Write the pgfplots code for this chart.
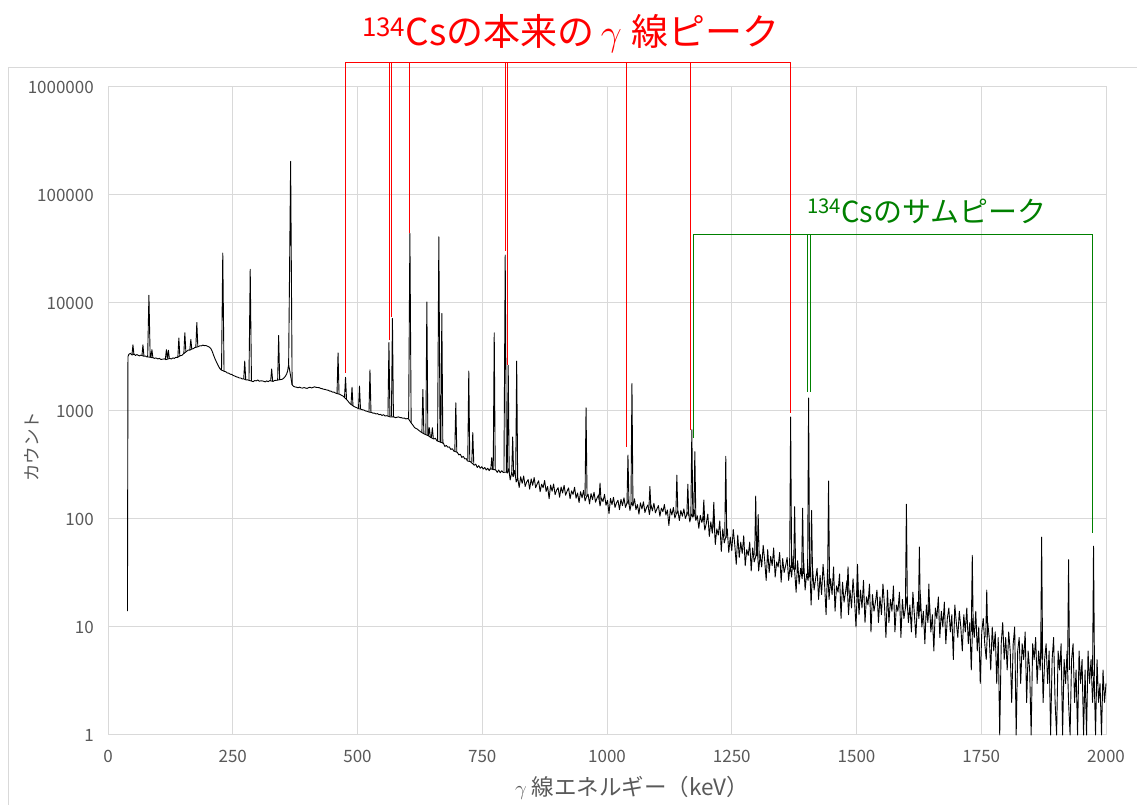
\documentclass[border=0pt]{standalone}
\usepackage{fontspec}
\setmainfont{Noto Sans CJK JP}
\usepackage{graphicx}
\usepackage{pgfplots}
\pgfplotsset{compat=1.18}
\definecolor{gridc}{HTML}{D9D9D9}
\definecolor{txt}{HTML}{595959}
\definecolor{dgreen}{RGB}{0,128,0}
\begin{document}
\begin{tikzpicture}[x=1pt,y=1pt]
\useasboundingbox (0,0) rectangle (1137,805);
\draw[gridc, line width=1pt] (8,-5) -- (8,737) -- (1142,737);
\begin{axis}[at={(108pt,70pt)}, anchor=south west, scale only axis, width=998pt, height=648pt,
 xmin=0, xmax=2000, ymode=log, ymin=1, ymax=1000000,
 xtick={0,250,500,750,1000,1250,1500,1750,2000},
 xticklabels={0,250,500,750,1000,1250,1500,1750,2000},
 ytick={1,10,100,1000,10000,100000,1000000},
 yticklabels={1,10,100,1000,10000,100000,1000000},
 grid=major, grid style={gridc, line width=1pt}, axis line style={gridc, line width=1pt},
 major tick length=0pt, tick style={draw=none},
 ticklabel style={font=\fontsize{17}{20}\selectfont, text=txt},
 xticklabel style={anchor=north, inner sep=0pt, yshift=-15pt},
 yticklabel style={anchor=east, inner sep=0pt, xshift=-14pt},
 clip=false, unbounded coords=jump,
]
% continuum
\addplot[black, line width=0.9pt, line join=round] coordinates {
(39,14)(40,3200)(42,3350)(45,3420)(48,3300)(52,3360)(55,3270)(58,3330)(60,3290)(63,3240)(66,3290)(72,3210)(75,3230)(78,3170)(85,3150)(88,3110)(90,3120)(93,3070)(96,3100)(100,3040)(103,3070)(106,3000)(110,3020)(113,3040)(116,2990)(124,3070)(127,3030)(130,3100)(133,3070)(136,3140)(139,3130)(145,3260)(148,3270)(150,3350)(158,3580)(161,3670)(164,3660)(168,3760)(171,3780)(174,3870)(181,3940)(184,4020)(187,4010)(190,4070)(193,4030)(196,4040)(200,3970)(203,3910)(206,3790)(209,3550)(212,3250)(215,3000)(218,2800)(221,2620)(224,2480)(227,2400)(233,2330)(236,2310)(239,2250)(242,2240)(245,2190)(248,2180)(251,2130)(254,2110)(257,2070)(260,2060)(263,2020)(266,2020)(269,1980)(271,1990)(277,1940)(280,1940)(288,1890)(291,1870)(294,1915)(297,1900)(300,1940)(303,1890)(306,1900)(309,1900)(312,1885)(315,1860)(318,1900)(321,1870)(324,1910)(331,1880)(334,1920)(338,1925)(346,1955)(349,1965)(352,2010)(355,2080)(358,2200)(360,2350)(362,2700)
(369,1750)(372,1690)(375,1670)(378,1660)(381,1640)(384,1665)(387,1635)(390,1630)(393,1650)(396,1630)(399,1620)(402,1645)(405,1660)(408,1635)(411,1655)(414,1675)(417,1655)(420,1650)(423,1645)(426,1620)(429,1610)(432,1590)(435,1585)(438,1565)(441,1560)(444,1530)(447,1525)(450,1495)(453,1495)(456,1465)(465,1425)(468,1395)(471,1375)(480,1250)(483,1200)(486,1160)(493,1100)(496,1085)(499,1070)(502,1050)(507,1040)(510,1025)(513,1020)(516,1000)(519,995)(522,980)(528,970)(531,955)(534,955)(537,940)(540,945)(543,925)(546,930)(549,910)(552,925)(555,900)(558,905)(566,880)(573,882)(576,868)(579,875)(582,882)(585,870)(588,868)(591,856)(594,860)(597,845)(600,852)(602,848)
(608,770)(611,740)(614,705)(617,690)(620,680)(623,660)(626,645)(628,635)(634,612)(642,590)(647,568)(653,550)(656,560)(659,530)(666,515)(672,505)(675,470)(678,480)(681,462)(684,465)(687,440)(690,448)(693,425)(700,415)(703,392)(706,398)(709,372)(712,380)(715,360)(718,362)(720,345)(726,340)(734,315)(737,322)(740,300)(743,312)(746,295)(749,305)(752,290)(755,300)(758,284)(761,295)(764,280)(766,292)(777,285)(780,270)(783,284)(786,268)(789,280)(792,270)(799,272)(800,266)
(803,292)(806,230)(809,270)(812,246)(815,282)(818,220)(821,241)(824,196)(827,246)(830,214)(833,250)(836,200)(839,220)(842,232)(845,189)(848,235)(851,205)(854,242)(857,195)(860,211)(863,226)(866,179)(869,210)(872,195)(875,227)(878,180)(881,200)(884,154)(887,206)(890,181)(893,211)(896,168)(899,185)(902,195)(905,159)(908,198)(911,174)(914,205)(917,166)(920,181)(923,194)(926,154)(929,182)(932,169)(935,197)(938,156)(941,174)(944,142)(947,179)(950,157)(953,184)(956,147)(959,161)(962,170)(965,138)(968,172)(971,151)(974,177)(977,143)(980,156)(983,167)(986,132)(989,156)(992,145)(995,169)(998,134)(1001,149)(1004,112)(1007,155)(1010,136)(1013,159)(1016,128)(1019,141)(1022,149)(1025,122)(1028,152)(1031,133)(1034,157)(1037,128)(1040,140)(1043,150)(1046,120)(1049,142)(1052,132)(1055,154)(1058,122)(1061,136)(1064,111)(1067,141)(1070,124)(1073,144)(1076,115)(1079,127)(1082,135)(1085,110)(1088,136)(1091,119)(1094,140)(1097,114)(1100,124)(1103,133)(1106,106)(1109,126)(1112,117)(1115,136)(1118,109)(1121,121)(1124,87)(1127,124)(1130,109)(1133,128)(1136,102)(1139,112)(1142,119)(1145,97)(1148,120)(1151,106)(1154,124)(1157,101)(1160,110)(1163,118)(1166,94)(1169,111)(1172,104)(1175,121)(1178,97)(1181,107)(1184,82)(1187,108)(1190,93)(1193,106)(1196,79)(1199,91)
(1202,111)(1205,69)(1208,94)(1211,74)(1214,111)(1217,58)(1220,81)(1223,71)(1226,96)(1229,50)(1232,81)(1235,60)(1238,68)(1241,81)(1244,49)(1247,68)(1250,51)(1253,80)(1256,58)(1259,38)(1262,71)(1265,44)(1268,61)(1271,48)(1274,70)(1277,37)(1280,52)(1283,46)(1286,61)(1289,33)(1292,54)(1295,40)(1298,45)(1301,54)(1304,33)(1307,47)(1310,36)(1313,57)(1316,41)(1319,27)(1322,52)(1325,32)(1328,45)(1331,37)(1334,54)(1337,29)(1340,40)(1343,36)(1346,49)(1349,26)(1352,43)(1355,32)(1358,37)(1361,44)(1364,27)(1367,37)(1370,29)(1373,45)(1376,33)(1379,21)(1382,41)(1385,25)(1388,35)(1391,28)(1394,42)(1397,22)(1400,31)
(1403,27)(1406,41)(1409,16)(1412,35)(1415,22)(1418,28)(1421,35)(1424,18)(1427,30)(1430,20)(1433,38)(1436,25)(1439,13)(1442,34)(1445,18)(1448,28)(1451,20)(1454,36)(1457,14)(1460,24)(1463,21)(1466,31)(1469,12)(1472,26)(1475,17)(1478,21)(1481,27)(1484,13)(1487,22)(1490,15)(1493,28)(1496,18)(1499,10)(1502,26)(1505,13)(1508,22)(1511,15)(1514,27)(1517,11)(1520,19)(1523,16)(1526,25)(1529,9)(1532,20)(1535,14)(1538,17)(1541,22)(1544,11)(1547,19)(1550,13)(1553,25)(1556,16)(1559,8)(1562,22)(1565,11)(1568,18)(1571,14)(1574,24)(1577,9)(1580,16)(1583,14)(1586,21)(1589,8)(1592,18)(1595,12)(1598,15)
(1601,19)(1604,11)(1607,16)(1610,9)(1613,21)(1616,13)(1619,8)(1622,17)(1625,12)(1628,20)(1631,10)(1634,14)(1637,7)(1640,16)(1643,11)(1646,18)(1649,9)(1652,13)(1655,6)(1658,15)(1661,12)(1664,19)(1667,8)(1670,14)(1673,10)(1676,17)(1679,7)(1682,12)(1685,15)(1688,9)(1691,13)(1694,5)(1697,16)(1700,11)(1703,8)(1706,14)(1709,10)(1712,6)(1715,13)(1718,9)(1721,15)(1724,7)(1727,11)(1730,4)(1733,12)(1736,8)(1739,14)(1742,6)(1745,10)(1748,3)(1751,9)(1754,12)(1757,7)(1760,5)(1763,11)(1766,8)(1769,4)(1772,10)(1775,6)(1778,9)(1781,3)(1784,8)(1787,1)(1790,7)(1793,11)(1796,5)(1799,8)(1802,4)(1805,9)(1808,6)(1811,2)(1814,7)(1817,10)(1820,1)(1823,6)(1826,8)(1829,3)(1832,7)(1835,5)(1838,9)(1841,2)(1844,6)(1847,4)(1850,1)(1853,7)(1856,5)(1859,8)(1862,3)(1865,6)(1868,4)(1871,9)(1874,2)(1877,5)(1880,7)(1883,3)(1886,6)(1889,1)(1892,5)(1895,8)(1898,2)(1901,1)(1904,6)(1907,4)(1910,7)(1913,1)(1916,5)(1919,3)(1922,6)(1925,2)(1928,1)(1931,5)(1934,7)(1937,2)(1940,4)(1943,1)(1946,6)(1949,3)(1952,5)(1955,1)(1958,4)(1961,1)(1964,6)(1967,3)(1970,5)(1973,2)(1976,4)(1979,1)(1982,5)(1985,2)(1988,3)(1991,1)(1994,4)(1997,2)(2000,3)
};
% peaks
\addplot[black, line width=0.9pt, line join=round] coordinates {
(48,3320)(50,4100)(52,3320)(52.1,nan)
(68,3240)(70,4100)(72,3240)(72.1,nan)
(79.5,3170)(82,11800)(84.5,3150)(84.6,nan)
(86,3130)(88,3700)(90,3110)(90.1,nan)
(115,3030)(117,3700)(119,3050)(119.1,nan)
(119.2,3050)(121,3650)(123,3050)(123.1,nan)
(140,3150)(142,4740)(144,3200)(144.1,nan)
(152,3400)(154,5300)(156,3550)(156.1,nan)
(164,3680)(166,4600)(168,3720)(168.1,nan)
(176,3880)(178,6600)(180,3950)(180.1,nan)
(227.5,2400)(230,29000)(232.5,2330)(232.6,nan)
(272,1980)(274,2900)(276,1960)(276.1,nan)
(282.5,1930)(285,20500)(287.5,1900)(287.6,nan)
(326,1900)(328,2450)(330,1890)(330.1,nan)
(340,1930)(342,5000)(344,1940)(344.1,nan)
(362,2700)(366,205000)(369,1750)(369.1,nan)
(459,1460)(461,3450)(463,1430)(463.1,nan)
(474,1340)(476,2050)(478,1290)(478.1,nan)
(487,1150)(489,1660)(491,1110)(491.1,nan)
(502,1050)(504,1700)(506,1040)(506.1,nan)
(523,980)(525,2400)(527,970)(527.1,nan)
(561,900)(563,4300)(565,890)(565.1,nan)
(568,885)(570,7200)(572,878)(572.1,nan)
(602.5,850)(605,44000)(607.5,780)(607.6,nan)
(629,630)(631,1580)(633,615)(633.1,nan)
(637,605)(639,10200)(641,595)(641.1,nan)
(642,590)(644,700)(646,570)(646.1,nan)
(648,565)(650,700)(652,555)(652.1,nan)
(660.5,530)(663,41000)(665.5,518)(665.6,nan)
(667,510)(669,8000)(671,498)(671.1,nan)
(695,425)(697,1190)(699,413)(699.1,nan)
(721,348)(723,2340)(725,340)(725.1,nan)
(729,333)(731,630)(733,326)(733.1,nan)
(767,287)(769,370)(771,285)(771.1,nan)
(772,284)(774,5300)(776,282)(776.1,nan)
(793.5,274)(796,27800)(798.5,271)(798.6,nan)
(800,270)(802,2650)(804,268)(804.1,nan)
(809,257)(811,575)(813,250)(813.1,nan)
(817,240)(819,2900)(821,234)(821.1,nan)
(956,163)(958,1070)(960,160)(960.1,nan)
(984,151)(986,215)(988,149)(988.1,nan)
(1040,137)(1042,390)(1044,136)(1044.1,nan)
(1048,135)(1050,1800)(1052,135)(1052.1,nan)
(1084,126)(1086,200)(1088,125)(1088.1,nan)
(1138,112)(1140,255)(1142,112)(1142.1,nan)
(1160,108)(1162,210)(1164,107)(1164.1,nan)
(1168,106)(1170,670)(1172,106)(1172.1,nan)
(1174,105)(1176,420)(1178,105)(1178.1,nan)
(1192,97)(1194,150)(1196,93)(1196.1,nan)
(1212,82)(1214,143)(1216,80)(1216.1,nan)
(1236,69)(1238,380)(1240,67)(1240.1,nan)
(1296,46)(1298,163)(1300,45)(1300.1,nan)
(1301,45)(1303,110)(1305,44)(1305.1,nan)
(1366,36)(1368,880)(1370,35)(1370.1,nan)
(1374,34)(1376,130)(1378,34)(1378.1,nan)
(1390,31)(1392,126)(1394,31)(1394.1,nan)
(1402,30)(1404,1320)(1406,29)(1406.1,nan)
(1408,29)(1410,120)(1412,29)(1412.1,nan)
(1442,25)(1444,225)(1446,25)(1446.1,nan)
(1481,21)(1483,36)(1485,20)(1485.1,nan)
(1500,19)(1502,38)(1504,19)(1504.1,nan)
(1598,15)(1600,137)(1602,15)(1602.1,nan)
(1624,14)(1626,55)(1628,14)(1628.1,nan)
(1643,13)(1645,25)(1647,13)(1647.1,nan)
(1730,9)(1732,46)(1734,9)(1734.1,nan)
(1759,8)(1761,22)(1763,8)(1763.1,nan)
(1869,5)(1871,68)(1873,5)(1873.1,nan)
(1923,4)(1925,42)(1927,4)(1927.1,nan)
(1973,3.5)(1975,56)(1977,3.5)
};
% red annotation
\draw[red, line width=1pt] (axis cs:475,2260) -- (axis cs:475,1700000) -- (axis cs:1367,1700000) -- (axis cs:1367,951);
\draw[red, line width=1pt] (axis cs:563.5,4540) -- (axis cs:563.5,1700000);
\draw[red, line width=1pt] (axis cs:569,7460) -- (axis cs:569,1700000);
\draw[red, line width=1pt] (axis cs:605,44400) -- (axis cs:605,1700000);
\draw[red, line width=1pt] (axis cs:796,30500) -- (axis cs:796,1700000);
\draw[red, line width=1pt] (axis cs:801,2670) -- (axis cs:801,1700000);
\draw[red, line width=1pt] (axis cs:1040,467) -- (axis cs:1040,1700000);
\draw[red, line width=1pt] (axis cs:1168,667) -- (axis cs:1168,1700000);
% green annotation
\draw[dgreen, line width=1pt] (axis cs:1173,563) -- (axis cs:1173,43500) -- (axis cs:1973,43500) -- (axis cs:1973,74.6);
\draw[dgreen, line width=1pt] (axis cs:1401,1500) -- (axis cs:1401,43500);
\draw[dgreen, line width=1pt] (axis cs:1407,1500) -- (axis cs:1407,43500);
\end{axis}
\node[red, font=\fontsize{37}{42}\selectfont] at (571,771) {\textsuperscript{134}Csの本来の\kern6pt\scalebox{1.5}{$\gamma$}\kern10pt 線ピーク};
\node[dgreen, font=\fontsize{29}{34}\selectfont] at (927,594) {\textsuperscript{134}Csのサムピーク};
\node[txt, rotate=90, font=\fontsize{17.5}{20}\selectfont] at (32,358) {カウント};
\node[txt, font=\fontsize{22.5}{26}\selectfont] at (632,17) {$\gamma$ 線エネルギー（keV）};
\end{tikzpicture}
\end{document}
